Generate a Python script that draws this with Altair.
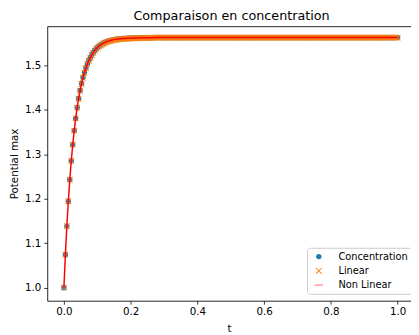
import altair as alt
import pandas as pd

# time grid (evenly spaced samples on [0, 1])
n_points = 228
t_values = [round(i / (n_points - 1), 6) for i in range(n_points)]

# rising part (first 61 samples)
conc_rise = [1.0, 1.0742, 1.1386, 1.1945, 1.2430, 1.2851, 1.3216, 1.3533, 1.3809, 1.4048,
             1.4255, 1.4435, 1.4592, 1.4728, 1.4846, 1.4948, 1.5037, 1.5114, 1.5180, 1.5238,
             1.5294, 1.5337, 1.5375, 1.5409, 1.5437, 1.5462, 1.5483, 1.5502, 1.5518, 1.5532,
             1.5545, 1.5555, 1.5564, 1.5572, 1.5579, 1.5585, 1.5591, 1.5595, 1.5599, 1.5603,
             1.5605, 1.5607, 1.5609, 1.5610, 1.5612, 1.5613, 1.5614, 1.5615, 1.5616, 1.5617,
             1.5618, 1.5619, 1.5620, 1.5621, 1.5622, 1.5622, 1.5623, 1.5623, 1.5624, 1.5624,
             1.5624]
linear_rise = [1.0, 1.0742, 1.1386, 1.1945, 1.2430, 1.2851, 1.3216, 1.3533, 1.3809, 1.4048,
               1.4250, 1.4428, 1.4582, 1.4718, 1.4836, 1.4938, 1.5027, 1.5104, 1.5170, 1.5228,
               1.5284, 1.5327, 1.5365, 1.5399, 1.5427, 1.5452, 1.5473, 1.5492, 1.5508, 1.5522,
               1.5535, 1.5545, 1.5554, 1.5562, 1.5569, 1.5575, 1.5581, 1.5585, 1.5589, 1.5593,
               1.5595, 1.5597, 1.5599, 1.5600, 1.5602, 1.5603, 1.5609, 1.5610, 1.5611, 1.5612,
               1.5613, 1.5614, 1.5615, 1.5616, 1.5617, 1.5617, 1.5618, 1.5618, 1.5619, 1.5619,
               1.5619]
nonlinear_rise = [1.0, 1.0742, 1.1386, 1.1945, 1.2430, 1.2851, 1.3216, 1.3533, 1.3809, 1.4048,
                  1.4255, 1.4435, 1.4592, 1.4728, 1.4846, 1.4948, 1.5037, 1.5114, 1.5180, 1.5238,
                  1.5294, 1.5337, 1.5375, 1.5409, 1.5437, 1.5462, 1.5483, 1.5502, 1.5518, 1.5532,
                  1.5545, 1.5555, 1.5564, 1.5572, 1.5579, 1.5585, 1.5591, 1.5595, 1.5599, 1.5603,
                  1.5605, 1.5607, 1.5609, 1.5610, 1.5612, 1.5613, 1.5614, 1.5615, 1.5616, 1.5617,
                  1.5618, 1.5619, 1.5620, 1.5621, 1.5622, 1.5622, 1.5623, 1.5623, 1.5624, 1.5624,
                  1.5624]
# plateau (remaining 167 samples)
plateau = [1.5625, 1.5625, 1.5625, 1.5625, 1.5625, 1.5625, 1.5625, 1.5625, 1.5625, 1.5625,
           1.5625, 1.5625, 1.5625, 1.5625, 1.5625, 1.5625, 1.5625, 1.5625, 1.5625, 1.5625,
           1.5625, 1.5625, 1.5625, 1.5625, 1.5625, 1.5625, 1.5625, 1.5625, 1.5625, 1.5625,
           1.5625, 1.5625, 1.5625, 1.5625, 1.5625, 1.5625, 1.5625, 1.5625, 1.5625, 1.5625,
           1.5625, 1.5625, 1.5625, 1.5625, 1.5625, 1.5625, 1.5625, 1.5625, 1.5625, 1.5625,
           1.5625, 1.5625, 1.5625, 1.5625, 1.5625, 1.5625, 1.5625, 1.5625, 1.5625, 1.5625,
           1.5625, 1.5625, 1.5625, 1.5625, 1.5625, 1.5625, 1.5625, 1.5625, 1.5625, 1.5625,
           1.5625, 1.5625, 1.5625, 1.5625, 1.5625, 1.5625, 1.5625, 1.5625, 1.5625, 1.5625,
           1.5625, 1.5625, 1.5625, 1.5625, 1.5625, 1.5625, 1.5625, 1.5625, 1.5625, 1.5625,
           1.5625, 1.5625, 1.5625, 1.5625, 1.5625, 1.5625, 1.5625, 1.5625, 1.5625, 1.5625,
           1.5625, 1.5625, 1.5625, 1.5625, 1.5625, 1.5625, 1.5625, 1.5625, 1.5625, 1.5625,
           1.5625, 1.5625, 1.5625, 1.5625, 1.5625, 1.5625, 1.5625, 1.5625, 1.5625, 1.5625,
           1.5625, 1.5625, 1.5625, 1.5625, 1.5625, 1.5625, 1.5625, 1.5625, 1.5625, 1.5625,
           1.5625, 1.5625, 1.5625, 1.5625, 1.5625, 1.5625, 1.5625, 1.5625, 1.5625, 1.5625,
           1.5625, 1.5625, 1.5625, 1.5625, 1.5625, 1.5625, 1.5625, 1.5625, 1.5625, 1.5625,
           1.5625, 1.5625, 1.5625, 1.5625, 1.5625, 1.5625, 1.5625, 1.5625, 1.5625, 1.5625,
           1.5625, 1.5625, 1.5625, 1.5625, 1.5625, 1.5625, 1.5625]

concentration = conc_rise + plateau
linear = linear_rise + plateau
non_linear = nonlinear_rise + plateau

series_names = ["Concentration", "Linear", "Non Linear"]
series_colors = ["#1f77b4", "#ff7f0e", "#ff0000"]
x_ticks = [0.0, 0.2, 0.4, 0.6, 0.8, 1.0]
y_ticks = [1.0, 1.1, 1.2, 1.3, 1.4, 1.5]

n = min(len(t_values), len(concentration), len(linear), len(non_linear))
df = pd.DataFrame({
    "t": t_values[:n] * 3,
    "value": concentration[:n] + linear[:n] + non_linear[:n],
    "series": [series_names[0]] * n + [series_names[1]] * n + [series_names[2]] * n,
})

FONT = "DejaVu Sans"
# thin "x" drawn as a filled outline, and a thin bar for the line legend symbol
X_POLY = ("M-0.88,-1.12L1.12,0.88L0.88,1.12L-1.12,-0.88Z"
          "M-1.12,0.88L0.88,-1.12L1.12,-0.88L-0.88,1.12Z")
LINE_RECT = "M-1.45,-0.1L1.45,-0.1L1.45,0.1L-1.45,0.1Z"

legend = alt.Legend(
    title=None,
    orient="none",
    legendX=265,
    legendY=226,
    labelFont=FONT,
    labelFontSize=10,
    labelColor="#000000",
    labelOffset=15,
    rowPadding=4.5,
    padding=4,
    symbolOffset=3,
    symbolOpacity=1,
    symbolStrokeWidth=0,
    fillColor="rgba(255,255,255,0.8)",
    strokeColor="#cccccc",
    cornerRadius=3,
)

color = alt.Color("series:N", scale=alt.Scale(domain=series_names, range=series_colors), legend=legend)
shape = alt.Shape("series:N", scale=alt.Scale(domain=series_names, range=["circle", X_POLY, LINE_RECT]), legend=legend)
size = alt.Size("series:N", scale=alt.Scale(domain=series_names, range=[30, 36, 225]), legend=legend)

x_scale = alt.Scale(domain=[-0.05, 1.04], nice=False, zero=False)
y_scale = alt.Scale(domain=[0.9707, 1.5882], nice=False, zero=False)

x_axis_bottom = alt.Axis(values=x_ticks, format=".1f", title="t", grid=False,
                         labelFont=FONT, labelFontSize=10.5, labelColor="#000000",
                         titleFont=FONT, titleFontSize=10.5, titleFontWeight="normal", titleColor="#000000",
                         tickSize=3.5, tickColor="#000000", tickWidth=0.8,
                         domainColor="#000000", domainWidth=0.8, labelPadding=3, titlePadding=6)
x_axis_top = alt.Axis(orient="top", labels=False, ticks=False, title=None, grid=False,
                      domainColor="#000000", domainWidth=0.8)
y_axis = alt.Axis(values=y_ticks, format=".1f", title="Potential max", grid=False,
                  labelFont=FONT, labelFontSize=10.5, labelColor="#000000",
                  titleFont=FONT, titleFontSize=10.5, titleFontWeight="normal", titleColor="#000000",
                  tickSize=3.5, tickColor="#000000", tickWidth=0.8,
                  domainColor="#000000", domainWidth=0.8, labelPadding=3, titlePadding=5)

base = alt.Chart(df)

points_layer = base.transform_filter(alt.datum.series != "Non Linear").mark_point(
    filled=True, opacity=1, strokeWidth=0
).encode(
    x=alt.X("t:Q", scale=x_scale, axis=x_axis_bottom),
    y=alt.Y("value:Q", scale=y_scale, axis=y_axis),
    color=color,
    shape=shape,
    size=size,
)
nl_layer = base.transform_filter(alt.datum.series == "Non Linear").mark_line(strokeWidth=1.5).encode(
    x=alt.X("t:Q", scale=x_scale, axis=x_axis_top),
    y=alt.Y("value:Q", scale=y_scale, axis=y_axis),
    color=alt.Color("series:N", scale=alt.Scale(domain=series_names, range=series_colors), legend=None),
)

chart = alt.layer(points_layer, nl_layer).resolve_axis(x="independent").properties(
    width=371,
    height=280,
    autosize=alt.AutoSizeParams(type="none"),
    padding={"left": 40, "top": 15.3, "right": 0, "bottom": 31},
    title=alt.TitleParams("Comparaison en concentration", font=FONT, fontSize=13,
                          fontWeight="normal", color="#000000", anchor="middle", offset=3, dx=2.5),
).configure_view(stroke=None).configure(background="white")

chart.save("out.html", embed_options={"renderer": "svg", "actions": False})
